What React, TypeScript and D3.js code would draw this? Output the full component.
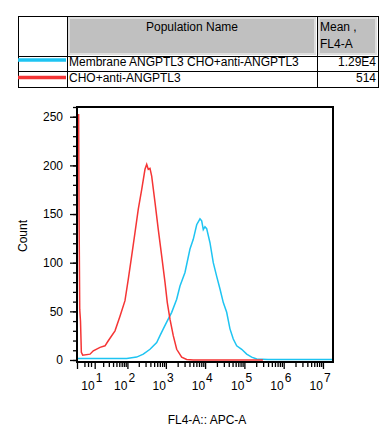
import React, { useEffect, useRef } from "react";
import * as d3 from "d3";

// legend table
const populations = ["Membrane ANGPTL3 CHO+anti-ANGPTL3", "CHO+anti-ANGPTL3"];
const means = ["1.29E4", "514"];
const colors = ["#1ec4f2", "#f53535"];

// histogram: FL4-A value vs count
const cyanX = [0, 95.6, 176, 262, 391, 581, 706, 858, 1047, 1408, 1888, 2293, 3073, 4120, 4999, 6110, 7412, 8190, 9000, 9934, 10970, 13310, 16150, 19730, 23950, 29060, 35430, 42980, 52160, 63730, 85350, 114400, 153200, 205700, 400000, 1.8e7];
const cyanY = [1.5, 1.5, 3, 6, 11, 18, 25, 32, 39, 49, 62.5, 76, 90, 114, 124, 139, 145, 143, 134, 137, 135, 120.5, 100, 86, 73, 59, 49, 32, 21.5, 14.6, 11, 6, 3, 1, 0.5, 0.5];

const redX = [0.3, 0.55, 0.7, 0.95, 1.25, 1.6, 2.2, 6.3, 8.8, 15.7, 22.9, 28.9, 45.5, 62.8, 86, 105.6, 130, 159, 194, 238, 290, 321, 353, 391, 432, 526, 639, 780, 948, 1087, 1272, 1544, 1889, 2532, 3394, 5000, 297000];
const redY = [252, 252, 150, 52, 40, 8, 5, 6, 9.5, 13, 14.6, 19.8, 30, 45, 61, 83, 107, 131, 155, 175, 196, 201, 196, 197, 189, 162, 134, 107, 80, 59, 42, 25, 11, 3, 0.5, 0, 0];

const yMajor = [0, 50, 100, 150, 200, 250];
const yMinor = d3.range(0, 261, 10);
const xMajorExp = [1, 2, 3, 4, 5, 6, 7];
const xMinorBase = [3, 5, 7];

const font = "'Liberation Sans', Arial, sans-serif";

export default function App() {
  const ref = useRef<SVGSVGElement>(null);

  useEffect(() => {
    const svg = d3.select(ref.current);
    svg.selectAll("*").remove();
    svg.style("font-family", font);

    // ---- table ----
    const t = svg.append("g");
    t.append("rect").attr("x", 69).attr("y", 18).attr("width", 246).attr("height", 36)
      .attr("fill", "#c0c0c0").attr("stroke", "#dedede").attr("stroke-width", 2);
    t.append("rect").attr("x", 319).attr("y", 18).attr("width", 57).attr("height", 36)
      .attr("fill", "#c0c0c0").attr("stroke", "#dedede").attr("stroke-width", 2);
    t.append("rect").attr("x", 18.5).attr("y", 16.5).attr("width", 360).attr("height", 71)
      .attr("fill", "none").attr("stroke", "#000");
    [67.5, 317.5].forEach(x => {
      t.append("line").attr("x1", x).attr("x2", x).attr("y1", 16.5).attr("y2", 87.5).attr("stroke", "#000");
    });
    [56.5, 71.5].forEach(y => {
      t.append("line").attr("x1", 18.5).attr("x2", 378.5).attr("y1", y).attr("y2", y).attr("stroke", "#000");
    });
    t.append("text").attr("x", 192).attr("y", 31).attr("text-anchor", "middle")
      .attr("font-size", 12).text("Population Name");
    t.append("text").attr("x", 320).attr("y", 31).attr("font-size", 12).text("Mean ,");
    t.append("text").attr("x", 320).attr("y", 48).attr("font-size", 12).text("FL4-A");
    const rowY = [65.5, 82];
    const swY = [60, 77.5];
    populations.forEach((p, i) => {
      t.append("line").attr("x1", 18).attr("x2", 66).attr("y1", swY[i]).attr("y2", swY[i])
        .attr("stroke", colors[i]).attr("stroke-width", 3.5);
      t.append("text").attr("x", 69).attr("y", rowY[i]).attr("font-size", 12).text(p);
      t.append("text").attr("x", 376).attr("y", rowY[i]).attr("text-anchor", "end")
        .attr("font-size", 12).text(means[i]);
    });

    // ---- plot ----
    const x = d3.scaleSymlog().constant(5.5).domain([0, 1.8e7]).range([77, 333]);
    const y = d3.scaleLinear().domain([0, 260]).range([360, 107]);

    const line = d3.line<[number, number]>().x(d => x(d[0])).y(d => y(d[1]));
    const cyan = cyanX.map((v, i) => [v, cyanY[i]] as [number, number]);
    const red = redX.map((v, i) => [v, redY[i]] as [number, number]);

    svg.append("path").attr("d", line(cyan)).attr("fill", "none")
      .attr("stroke", colors[0]).attr("stroke-width", 1.5);
    svg.append("path").attr("d", line(red)).attr("fill", "none")
      .attr("stroke", colors[1]).attr("stroke-width", 1.5);

    // frame
    svg.append("rect").attr("x", 77).attr("y", 107).attr("width", 256).attr("height", 255)
      .attr("fill", "none").attr("stroke", "#000").attr("stroke-width", 2);

    // y axis
    const yMin = svg.append("g").attr("transform", "translate(77,0)")
      .call(d3.axisLeft(y).tickValues(yMinor).tickSize(4).tickFormat(() => ""));
    yMin.select(".domain").remove();
    const yMaj = svg.append("g").attr("transform", "translate(77,0)")
      .call(d3.axisLeft(y).tickValues(yMajor).tickSize(7).tickPadding(7).tickFormat(d3.format("d")));
    yMaj.select(".domain").remove();
    yMaj.selectAll("text").attr("font-size", 12).attr("font-family", font).attr("fill", "#000");

    // x axis
    const minorVals: number[] = [];
    xMinorBase.forEach(b => minorVals.push(b));
    for (let e = 1; e <= 6; e++) {
      for (let m = 2; m <= 9; m++) minorVals.push(m * Math.pow(10, e));
    }
    const majorVals = [0, ...xMajorExp.map(e => Math.pow(10, e))];
    const xMin = svg.append("g").attr("transform", "translate(0,362)")
      .call(d3.axisBottom(x).tickValues(minorVals).tickSize(5).tickFormat(() => ""));
    xMin.select(".domain").remove();
    const xMaj = svg.append("g").attr("transform", "translate(0,362)")
      .call(d3.axisBottom(x).tickValues(majorVals).tickSize(7).tickFormat(() => ""));
    xMaj.select(".domain").remove();
    svg.selectAll("g.tick line").attr("stroke-width", 1.3);

    xMajorExp.forEach(e => {
      const px = x(Math.pow(10, e));
      svg.append("text").attr("x", px).attr("y", 390).attr("text-anchor", "end")
        .attr("font-size", 12).text("10");
      svg.append("text").attr("x", px + 1).attr("y", 382).attr("font-size", 12).text(String(e));
    });

    svg.append("text").attr("x", 207).attr("y", 424).attr("text-anchor", "middle")
      .attr("font-size", 12).text("FL4-A:: APC-A");
    svg.append("text").attr("transform", "translate(27,236) rotate(-90)")
      .attr("text-anchor", "middle").attr("font-size", 12).text("Count");
  }, []);

  return (
    <svg ref={ref} width={391} height={436}
      style={{ position: "absolute", left: 0, top: 0, background: "#fff" }} />
  );
}
